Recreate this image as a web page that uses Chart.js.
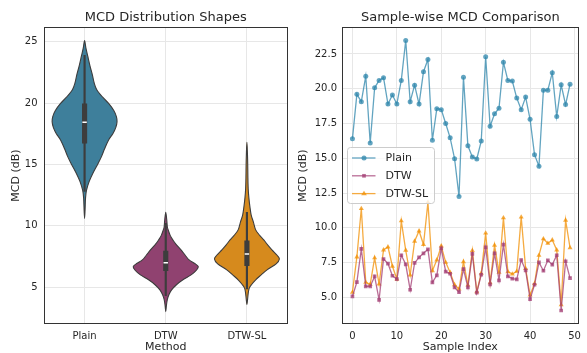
<!DOCTYPE html>
<html lang="en">
<head>
<meta charset="UTF-8">
<title>MCD Distribution and Sample-wise Comparison</title>
<script src="https://cdn.jsdelivr.net/npm/chart.js@4"></script>
<style>
    html, body { margin: 0; padding: 0; background: #ffffff; }
    #wrap { position: relative; width: 587px; height: 353px; overflow: hidden; }
    canvas { position: absolute; top: 0; }
    #violinChart { left: 0; }
    #sampleChart { left: 293px; }
</style>
</head>
<body>
<div id="wrap">
    <canvas id="violinChart" width="293" height="353"></canvas>
    <canvas id="sampleChart" width="294" height="353"></canvas>
</div>
<script>
// ---- data ----
const methods = ['Plain', 'DTW', 'DTW-SL'];

const sampleIndex = [0, 1, 2, 3, 4, 5, 6, 7, 8, 9, 10, 11, 12, 13, 14, 15, 16, 17, 18, 19,
    20, 21, 22, 23, 24, 25, 26, 27, 28, 29, 30, 31, 32, 33, 34, 35, 36, 37, 38, 39,
    40, 41, 42, 43, 44, 45, 46, 47, 48, 49];

const plainMcd = [16.4, 19.6, 19.07, 20.9, 16.1, 20.07, 20.6, 20.8, 18.9, 19.55,
    18.9, 20.6, 23.47, 19.07, 20.26, 18.9, 21.23, 22.1, 16.3, 18.57,
    18.5, 17.5, 16.47, 14.97, 12.26, 20.83, 15.9, 15.1, 14.95, 16.24,
    22.3, 17.3, 18.2, 18.6, 21.9, 20.6, 20.55, 19.33, 18.5, 19.4,
    17.8, 15.26, 14.43, 19.9, 19.9, 21.16, 18.0, 20.28, 18.86, 20.33];

const dtwMcd = [5.07, 6.1, 8.49, 5.79, 5.79, 6.51, 4.83, 7.76, 7.43, 6.56,
    6.32, 8.03, 7.38, 5.55, 7.48, 7.88, 8.17, 8.46, 6.08, 6.59,
    8.53, 6.85, 6.7, 5.72, 5.38, 7.04, 5.72, 8.13, 5.34, 6.63,
    8.6, 5.94, 8.17, 6.23, 8.8, 6.51, 6.35, 6.3, 7.69, 6.95,
    4.88, 5.91, 7.52, 6.92, 7.67, 7.36, 8.03, 4.06, 7.6, 6.39];

const dtwSlMcd = [5.36, 7.91, 11.39, 6.08, 5.94, 7.84, 5.96, 8.41, 8.63, 7.24,
    6.32, 10.5, 8.39, 6.61, 9.04, 9.78, 8.8, 11.83, 6.92, 7.69,
    8.7, 7.52, 6.8, 5.91, 5.6, 7.57, 5.89, 8.37, 5.41, 6.73,
    9.62, 6.06, 8.75, 6.8, 10.72, 6.85, 6.68, 6.87, 10.77, 7.07,
    5.17, 5.99, 8.03, 9.21, 8.89, 9.13, 8.41, 4.47, 10.55, 8.56];

// violin outlines: MCD level and relative half-width (1 = widest)
const plainLevels = [25.1, 24.5, 23.8, 23.0, 22.3, 21.6, 21.07, 20.5, 19.98, 19.4, 18.9, 18.49,
    18.0, 17.5, 17.0, 16.3, 15.64, 15.0, 14.3, 13.6, 12.9, 12.3, 11.3, 10.6];
const plainWidths = [0, 0.04, 0.1, 0.17, 0.24, 0.3, 0.38, 0.55, 0.74, 0.9, 0.98, 1.0,
    0.96, 0.87, 0.74, 0.62, 0.52, 0.4, 0.26, 0.14, 0.06, 0.03, 0.015, 0];

const dtwLevels = [11.1, 10.5, 9.9, 9.67, 9.2, 8.85, 8.45, 8.04, 7.6, 7.22, 6.95, 6.7,
    6.4, 6.0, 5.6, 5.2, 4.78, 4.4, 4.0, 3.5, 3.0];
const dtwWidths = [0, 0.03, 0.05, 0.075, 0.14, 0.22, 0.33, 0.47, 0.6, 0.72, 0.88, 1.0,
    0.95, 0.78, 0.53, 0.33, 0.18, 0.1, 0.05, 0.02, 0];

const dtwSlLevels = [16.8, 16.0, 15.0, 14.0, 13.0, 12.3, 11.6, 10.9, 10.3, 9.67, 9.2, 8.85,
    8.4, 8.04, 7.6, 7.3, 6.9, 6.41, 6.0, 5.6, 5.2, 4.9, 4.5, 4.0, 3.6];
const dtwSlWidths = [0, 0.015, 0.025, 0.03, 0.04, 0.06, 0.09, 0.13, 0.2, 0.27, 0.4, 0.52,
    0.65, 0.77, 0.93, 1.0, 0.9, 0.62, 0.44, 0.27, 0.14, 0.07, 0.04, 0.02, 0];

// inner box of each violin
const boxQ1 = [16.73, 6.35, 6.75];
const boxMedian = [18.44, 7.0, 7.71];
const boxQ3 = [19.93, 7.95, 8.78];
const whiskerLow = [12.8, 4.3, 4.85];
const whiskerHigh = [23.9, 10.2, 11.1];

// ticks
const violinTicks = [5, 10, 15, 20, 25];
const sampleYTicks = [5, 7.5, 10, 12.5, 15, 17.5, 20, 22.5];
const sampleXTicks = [0, 10, 20, 30, 40, 50];

// ---- styling ----
const violinFill = ['#3e7f9b', '#904270', '#d68a1d'];
const lineColors = ['rgba(46, 134, 171, 0.75)', 'rgba(162, 59, 114, 0.75)', 'rgba(241, 143, 1, 0.75)'];
const markerStyles = ['circle', 'rect', 'triangle'];
const edgeGray = '#3d3d3d';
const gridColor = '#e7e7e7';
const textColor = '#262626';

Chart.defaults.font.family = "'DejaVu Sans', sans-serif";
Chart.defaults.color = textColor;
Chart.defaults.animation = false;

const titleFont = { size: 13, weight: 'normal', lineHeight: 1.2 };
const axisTitleFont = { size: 11, lineHeight: 1 };
const tickFont = { size: 10 };

// frame round the plot area (all four spines)
const framePlugin = {
    id: 'frame',
    afterDatasetsDraw(chart) {
        const { ctx, chartArea: a } = chart;
        ctx.save();
        ctx.strokeStyle = '#333333';
        ctx.lineWidth = 1;
        ctx.strokeRect(Math.round(a.left) + 0.5, Math.round(a.top) + 0.5,
            Math.round(a.width) - 1, Math.round(a.height) - 1);
        ctx.restore();
    }
};

// violin bodies, drawn through the chart scales before the inner boxes
const violinProfiles = [
    { levels: plainLevels, widths: plainWidths },
    { levels: dtwLevels, widths: dtwWidths },
    { levels: dtwSlLevels, widths: dtwSlWidths }
];

const violinPlugin = {
    id: 'violins',
    beforeDatasetsDraw(chart) {
        const { ctx, chartArea, scales: { x, y } } = chart;
        ctx.save();
        ctx.beginPath();
        ctx.rect(chartArea.left, chartArea.top, chartArea.width, chartArea.height);
        ctx.clip();
        violinProfiles.forEach((prof, i) => {
            const cx = x.getPixelForValue(i);
            const half = x.getPixelForValue(i + 0.4) - cx;
            const right = prof.levels.map((lv, k) => [cx + half * prof.widths[k], y.getPixelForValue(lv)]);
            const left = prof.levels.map((lv, k) => [cx - half * prof.widths[k], y.getPixelForValue(lv)]).reverse();
            const pts = right.concat(left.slice(1, -1));
            const n = pts.length;
            ctx.beginPath();
            ctx.moveTo(pts[0][0], pts[0][1]);
            for (let k = 0; k < n; k++) {
                const p0 = pts[(k - 1 + n) % n], p1 = pts[k], p2 = pts[(k + 1) % n], p3 = pts[(k + 2) % n];
                ctx.bezierCurveTo(
                    p1[0] + (p2[0] - p0[0]) / 6, p1[1] + (p2[1] - p0[1]) / 6,
                    p2[0] - (p3[0] - p1[0]) / 6, p2[1] - (p3[1] - p1[1]) / 6,
                    p2[0], p2[1]);
            }
            ctx.closePath();
            ctx.fillStyle = violinFill[i];
            ctx.fill();
            ctx.lineWidth = 1.1;
            ctx.strokeStyle = edgeGray;
            ctx.stroke();
        });
        ctx.restore();
    }
};

new Chart(document.getElementById('violinChart'), {
    type: 'bar',
    data: {
        labels: methods,
        datasets: [
            {
                type: 'line',
                label: 'Median',
                data: boxMedian,
                showLine: false,
                pointStyle: 'line',
                pointRadius: 2.2,
                pointBorderWidth: 1.5,
                pointBorderColor: '#ffffff',
                order: 0
            },
            {
                label: 'IQR',
                data: methods.map((m, i) => [boxQ1[i], boxQ3[i]]),
                backgroundColor: edgeGray,
                barThickness: 4.5,
                grouped: false,
                order: 1
            },
            {
                label: 'Whisker',
                data: methods.map((m, i) => [whiskerLow[i], whiskerHigh[i]]),
                backgroundColor: edgeGray,
                barThickness: 1.5,
                grouped: false,
                order: 2
            }
        ]
    },
    options: {
        responsive: false,
        layout: { padding: { left: 0, right: 4, top: 0, bottom: 0 } },
        plugins: {
            legend: { display: false },
            tooltip: { enabled: false },
            title: {
                display: true,
                text: 'MCD Distribution Shapes',
                font: titleFont,
                color: textColor,
                fullSize: false,
                padding: { top: 9.5, bottom: 1.9 }
            }
        },
        scales: {
            x: {
                type: 'category',
                offset: true,
                grid: { offset: false, color: gridColor, drawTicks: false },
                border: { display: false },
                ticks: { padding: 6, font: tickFont, color: textColor },
                title: { display: true, text: 'Method', font: axisTitleFont, color: textColor, padding: { top: 0, bottom: 0 } },
                afterFit: s => { s.height = 29; }
            },
            y: {
                min: 2.0,
                max: 26.2,
                afterBuildTicks: s => { s.ticks = violinTicks.map(v => ({ value: v })); },
                grid: { color: gridColor, drawTicks: false },
                border: { display: false },
                ticks: { padding: 6.5, font: tickFont, color: textColor },
                title: { display: true, text: 'MCD (dB)', font: axisTitleFont, color: textColor, padding: { top: 11, bottom: 0 } },
                afterFit: s => { s.width = 44; }
            }
        }
    },
    plugins: [violinPlugin, framePlugin]
});

// legend box inside the right plot, matplotlib style
function drawMarker(ctx, style, x, y, r) {
    ctx.beginPath();
    if (style === 'circle') {
        ctx.arc(x, y, r, 0, Math.PI * 2);
    } else if (style === 'rect') {
        const s = r * Math.SQRT1_2;
        ctx.rect(x - s, y - s, 2 * s, 2 * s);
    } else {
        const h = r * 1.5;
        ctx.moveTo(x, y - r);
        ctx.lineTo(x + h * 0.577 * 1.15, y + r * 0.6);
        ctx.lineTo(x - h * 0.577 * 1.15, y + r * 0.6);
        ctx.closePath();
    }
    ctx.fill();
}

const legendPlugin = {
    id: 'innerLegend',
    afterDraw(chart) {
        const { ctx, chartArea: a } = chart;
        const bx = a.left + 5.5, by = a.top + 120.5, bw = 87, bh = 56;
        ctx.save();
        ctx.beginPath();
        ctx.roundRect(bx, by, bw, bh, 3);
        ctx.fillStyle = 'rgba(255, 255, 255, 0.8)';
        ctx.fill();
        ctx.strokeStyle = '#cccccc';
        ctx.lineWidth = 1;
        ctx.stroke();
        ctx.font = "11px 'DejaVu Sans', sans-serif";
        ctx.textBaseline = 'middle';
        chart.data.datasets.forEach((ds, i) => {
            const ry = by + 10.5 + i * 17.8;
            ctx.strokeStyle = ds.borderColor;
            ctx.lineWidth = ds.borderWidth;
            ctx.beginPath();
            ctx.moveTo(bx + 4.5, ry);
            ctx.lineTo(bx + 28, ry);
            ctx.stroke();
            ctx.fillStyle = ds.pointBackgroundColor;
            drawMarker(ctx, ds.pointStyle, bx + 16.5, ry, ds.pointRadius);
            ctx.fillStyle = textColor;
            ctx.fillText(ds.label, bx + 38, ry + 0.5);
        });
        ctx.restore();
    }
};

const seriesValues = [plainMcd, dtwMcd, dtwSlMcd];
const markerRadius = [2.5, 2.6, 2.9];

new Chart(document.getElementById('sampleChart'), {
    type: 'line',
    data: {
        datasets: methods.map((name, i) => ({
            label: name,
            data: seriesValues[i].map((v, k) => ({ x: sampleIndex[k], y: v })),
            borderColor: lineColors[i],
            borderWidth: 1.3,
            pointStyle: markerStyles[i],
            pointRadius: markerRadius[i],
            pointBackgroundColor: lineColors[i],
            pointBorderWidth: 0,
            tension: 0,
            fill: false
        }))
    },
    options: {
        responsive: false,
        layout: { padding: { left: 0, right: 2, top: 0, bottom: 0 } },
        plugins: {
            legend: { display: false },
            tooltip: { enabled: false },
            title: {
                display: true,
                text: 'Sample-wise MCD Comparison',
                font: titleFont,
                color: textColor,
                fullSize: false,
                padding: { top: 9.5, bottom: 1.9 }
            }
        },
        scales: {
            x: {
                type: 'linear',
                min: -2.35,
                max: 50.95,
                afterBuildTicks: s => { s.ticks = sampleXTicks.map(v => ({ value: v })); },
                grid: { color: gridColor, drawTicks: false },
                border: { display: false },
                ticks: { padding: 6, font: tickFont, color: textColor, callback: v => String(v) },
                title: { display: true, text: 'Sample Index', font: axisTitleFont, color: textColor, padding: { top: 0, bottom: 0 } },
                afterFit: s => { s.height = 29; }
            },
            y: {
                min: 3.09,
                max: 24.44,
                afterBuildTicks: s => { s.ticks = sampleYTicks.map(v => ({ value: v })); },
                grid: { color: gridColor, drawTicks: false },
                border: { display: false },
                ticks: { padding: 5, font: tickFont, color: textColor, callback: v => v.toFixed(1) },
                title: { display: true, text: 'MCD (dB)', font: axisTitleFont, color: textColor, padding: { top: 5, bottom: 0 } },
                afterFit: s => { s.width = 49; }
            }
        }
    },
    plugins: [framePlugin, legendPlugin]
});
</script>
</body>
</html>
